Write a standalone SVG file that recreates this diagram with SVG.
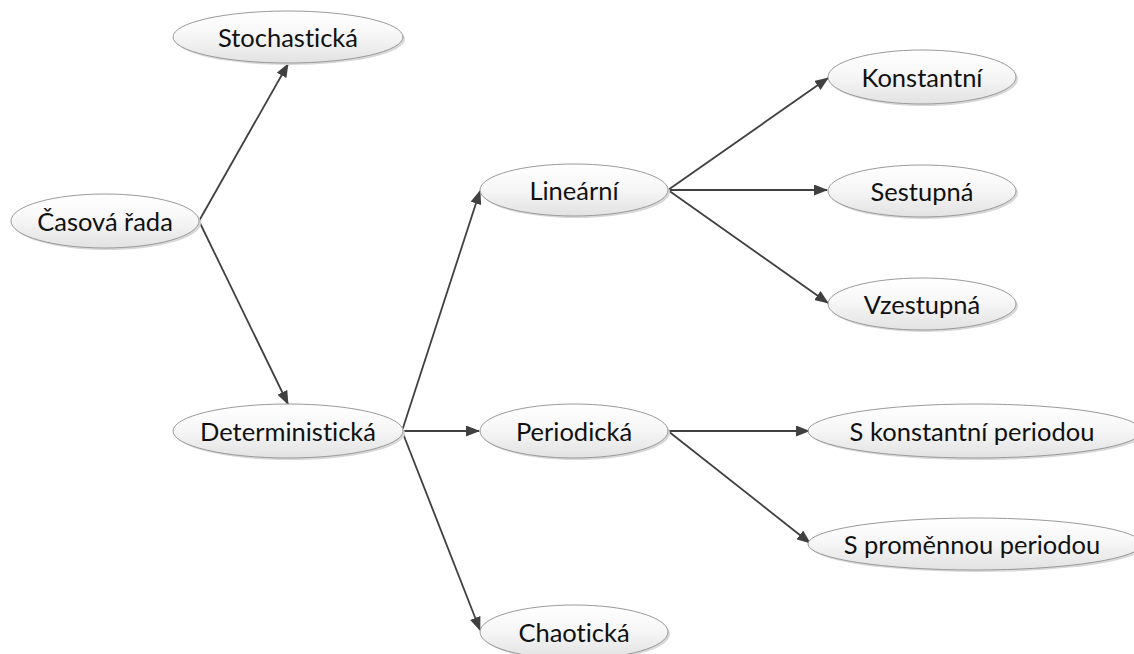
<svg xmlns="http://www.w3.org/2000/svg" width="1134" height="654" viewBox="0 0 1134 654">
  <style>
    .node ellipse { fill: url(#nodeFill); stroke: #9a9a9a; stroke-width: 1; }
    .node .shadow { fill: #d8d8d8; stroke: none; }
    .node text { font-family: Lato, "Liberation Sans", sans-serif; font-size: 25.5px; fill: #111; text-anchor: middle; dominant-baseline: central; font-variant-ligatures: none; }
    .edge { stroke: #404040; stroke-width: 1.8; fill: none; marker-end: url(#arrow); }
  </style>
  <defs>
    <linearGradient id="nodeFill" x1="0" y1="0" x2="0" y2="1">
      <stop offset="0" stop-color="#ffffff"/>
      <stop offset="0.45" stop-color="#f7f7f7"/>
      <stop offset="1" stop-color="#e2e2e2"/>
    </linearGradient>
    <marker id="arrow" viewBox="0 0 14 11" refX="13" refY="5.5" markerWidth="14" markerHeight="11" markerUnits="userSpaceOnUse" orient="auto">
      <path d="M0,0 L14,5.5 L0,11 Z" fill="#404040"/>
    </marker>
  </defs>

  <rect width="1134" height="654" fill="#ffffff"/>

  <!-- connectors -->
  <g id="connectors">
    <line class="edge" x1="199" y1="221" x2="288" y2="64"/>
    <line class="edge" x1="199" y1="221" x2="288" y2="404"/>
    <line class="edge" x1="402" y1="431" x2="480" y2="191"/>
    <line class="edge" x1="402" y1="431" x2="479" y2="431"/>
    <line class="edge" x1="402" y1="431" x2="480" y2="630"/>
    <line class="edge" x1="668" y1="190" x2="828" y2="78"/>
    <line class="edge" x1="668" y1="190" x2="827" y2="190"/>
    <line class="edge" x1="668" y1="190" x2="828" y2="303"/>
    <line class="edge" x1="668" y1="431" x2="809" y2="431"/>
    <line class="edge" x1="668" y1="431" x2="810" y2="543"/>
  </g>

  <!-- nodes -->
  <g id="casova-rada" class="node">
    <ellipse class="shadow" cx="107" cy="223" rx="94" ry="27"/>
    <ellipse cx="105" cy="221" rx="94" ry="27"/>
    <text x="105" y="221">Časová řada</text>
  </g>
  <g id="stochasticka" class="node">
    <ellipse class="shadow" cx="290" cy="39" rx="115" ry="26"/>
    <ellipse cx="288" cy="37" rx="115" ry="26"/>
    <text x="288" y="37">Stochastická</text>
  </g>
  <g id="deterministicka" class="node">
    <ellipse class="shadow" cx="290" cy="433" rx="115" ry="27"/>
    <ellipse cx="288" cy="431" rx="115" ry="27"/>
    <text x="288" y="431">Deterministická</text>
  </g>
  <g id="linearni" class="node">
    <ellipse class="shadow" cx="576" cy="192" rx="94" ry="26"/>
    <ellipse cx="574" cy="190" rx="94" ry="26"/>
    <text x="574" y="190">Lineární</text>
  </g>
  <g id="periodicka" class="node">
    <ellipse class="shadow" cx="576" cy="433" rx="94" ry="27"/>
    <ellipse cx="574" cy="431" rx="94" ry="27"/>
    <text x="574" y="431">Periodická</text>
  </g>
  <g id="chaoticka" class="node">
    <ellipse class="shadow" cx="576" cy="634" rx="94" ry="27"/>
    <ellipse cx="574" cy="632" rx="94" ry="27"/>
    <text x="574" y="632">Chaotická</text>
  </g>
  <g id="konstantni" class="node">
    <ellipse class="shadow" cx="924" cy="79" rx="94" ry="27"/>
    <ellipse cx="922" cy="77" rx="94" ry="27"/>
    <text x="922" y="77">Konstantní</text>
  </g>
  <g id="sestupna" class="node">
    <ellipse class="shadow" cx="924" cy="193" rx="94" ry="26"/>
    <ellipse cx="922" cy="191" rx="94" ry="26"/>
    <text x="922" y="191">Sestupná</text>
  </g>
  <g id="vzestupna" class="node">
    <ellipse class="shadow" cx="924" cy="306" rx="94" ry="26"/>
    <ellipse cx="922" cy="304" rx="94" ry="26"/>
    <text x="922" y="304">Vzestupná</text>
  </g>
  <g id="s-konstantni-periodou" class="node">
    <ellipse class="shadow" cx="977" cy="433" rx="167" ry="27"/>
    <ellipse cx="975" cy="431" rx="167" ry="27"/>
    <text x="972" y="431">S konstantní periodou</text>
  </g>
  <g id="s-promennou-periodou" class="node">
    <ellipse class="shadow" cx="977" cy="546" rx="167" ry="26"/>
    <ellipse cx="975" cy="544" rx="167" ry="26"/>
    <text x="972" y="544">S proměnnou periodou</text>
  </g>
</svg>
